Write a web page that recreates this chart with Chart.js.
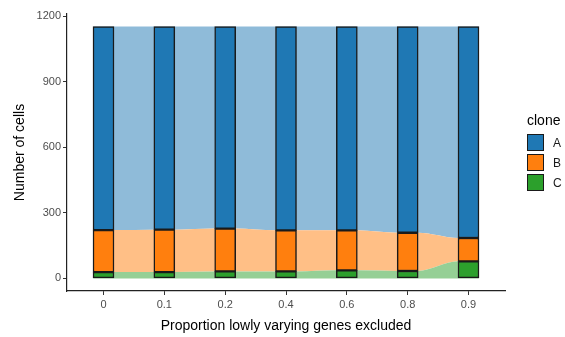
<!DOCTYPE html>
<html>
<head>
<meta charset="utf-8">
<script src="https://cdn.jsdelivr.net/npm/chart.js@4/dist/chart.umd.min.js"></script>
<style>
  html, body { margin: 0; padding: 0; background: #fff; }
  #wrap { position: relative; width: 565px; height: 337px; font-family: "Liberation Sans", Arial, sans-serif; }
  #legend { position: absolute; left: 527px; top: 112px; }
  #legend .title { font-size: 14px; color: #000; margin-bottom: 5px; line-height: 16px; }
  #legend .row { display: flex; align-items: center; height: 20px; }
  #legend .key { width: 17px; height: 17px; border: 1.5px solid #1a1a1a; box-sizing: border-box; margin-top: -1px; }
  #legend .lab { font-size: 12px; color: #1a1a1a; margin-left: 9px; }
</style>
</head>
<body>
<div id="wrap">
  <canvas id="c" width="565" height="337"></canvas>
  <div id="legend"></div>
</div>
<script>
// Proportion of lowly varying genes excluded (x categories)
const categories = ['0', '0.1', '0.2', '0.4', '0.6', '0.8', '0.9'];
// Number of cells assigned to each clone at each setting
const cloneA = [931, 929, 924, 932, 932, 943, 967];
const cloneB = [192, 194, 196, 188, 183, 175, 107];
const cloneC = [29, 29, 32, 32, 37, 34, 78];
const yTickValues = [0, 300, 600, 900, 1200];
const cloneNames = ['A', 'B', 'C'];

const solid = { A: '#1f78b4', B: '#ff7f0e', C: '#2ca02c' };
const light = { A: '#8fbbd9', B: '#ffbf86', C: '#95cf95' };
const BAR_HALF = 0.17;

// Flow band between neighbouring bars: flat under each bar, then curving to the next one
function flowPoints(values) {
  const pts = [];
  values.forEach((v, i) => {
    pts.push({ x: i - BAR_HALF, y: v });
    pts.push({ x: i + BAR_HALF, y: v });
  });
  return pts;
}
function barPoints(values) {
  return values.map((v, i) => ({ x: i, y: v }));
}

const series = { A: cloneA, B: cloneB, C: cloneC };

function barSet(name) {
  return {
    type: 'bar', label: name, stack: 'bars', order: 0,
    data: barPoints(series[name]),
    backgroundColor: solid[name], borderColor: '#1a1a1a', borderWidth: 1.5,
    borderSkipped: false, barThickness: 21
  };
}
function flowSet(name, fill) {
  return {
    type: 'line', label: 'flow ' + name, stack: 'flows', order: 1,
    data: flowPoints(series[name]),
    backgroundColor: light[name], borderColor: 'rgba(0,0,0,0)', borderWidth: 0,
    pointRadius: 0, fill: fill, cubicInterpolationMode: 'monotone'
  };
}

const ctx = document.getElementById('c');
new Chart(ctx, {
  data: {
    datasets: [
      barSet('C'), barSet('B'), barSet('A'),
      flowSet('C', 'origin'), flowSet('B', '-1'), flowSet('A', '-1')
    ]
  },
  options: {
    responsive: false,
    animation: false,
    layout: { padding: { left: 0, right: 60, top: 14, bottom: 0 } },
    plugins: { legend: { display: false }, tooltip: { enabled: false } },
    scales: {
      x: {
        type: 'linear', min: -0.6, max: 6.6, offset: false,
        afterBuildTicks: s => { s.ticks = categories.map((c, i) => ({ value: i })); },
        afterFit: s => { s.height = 46; },
        ticks: {
          callback: v => categories[v],
          color: '#4d4d4d', font: { family: 'Liberation Sans', size: 11 },
          padding: 3, maxRotation: 0, autoSkip: false
        },
        grid: { offset: false, drawOnChartArea: false, drawTicks: true, tickLength: 4, color: '#333', lineWidth: 1 },
        border: { display: true, color: '#222', width: 1.2 },
        title: {
          display: true, text: 'Proportion lowly varying genes excluded',
          color: '#000', font: { family: 'Liberation Sans', size: 14 },
          padding: { top: 2, bottom: 2 }
        }
      },
      y: {
        stacked: true, min: -57.6, max: 1209.6,
        afterBuildTicks: s => { s.ticks = yTickValues.map(v => ({ value: v })); },
        afterFit: s => { s.width = 67; },
        ticks: {
          callback: v => String(v),
          color: '#4d4d4d', font: { family: 'Liberation Sans', size: 11 },
          padding: 2
        },
        grid: { drawOnChartArea: false, drawTicks: true, tickLength: 4, color: '#333', lineWidth: 1 },
        border: { display: true, color: '#222', width: 1.2 },
        title: {
          display: true, text: 'Number of cells',
          color: '#000', font: { family: 'Liberation Sans', size: 14 },
          padding: { top: 12, bottom: 0 }
        }
      }
    }
  }
});

// Legend for the clone fill colours
const legend = document.getElementById('legend');
legend.innerHTML = '<div class="title">clone</div>' + cloneNames.map(n =>
  '<div class="row"><div class="key" style="background:' + solid[n] + '"></div><div class="lab">' + n + '</div></div>'
).join('');
</script>
</body>
</html>
